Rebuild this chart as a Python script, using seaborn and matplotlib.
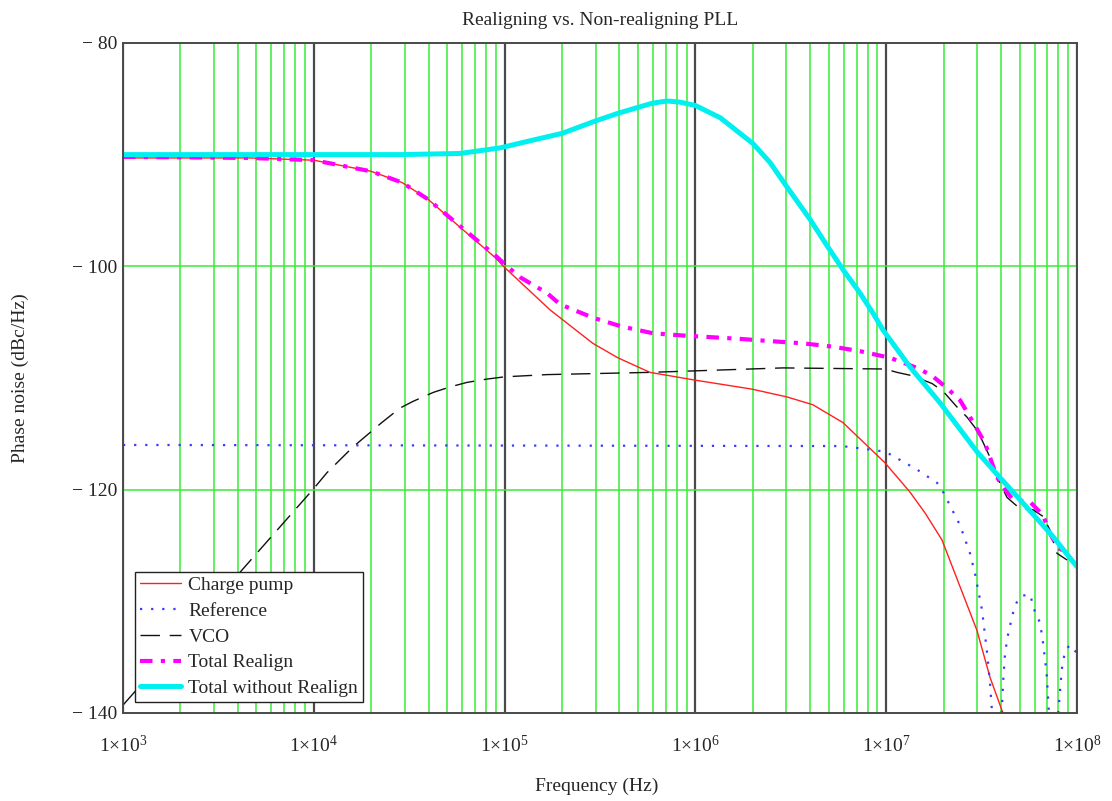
import pandas as pd
import seaborn as sns
import matplotlib.pyplot as plt
from matplotlib.ticker import FixedLocator, LogLocator, NullFormatter

# phase noise contributions (Hz, dBc/Hz)
cp_freq = [1e3, 4.6e3, 1e4, 2.0e4, 2.9e4, 3.97e4, 5.84e4, 8.9e4, 1.0e5, 1.73e5, 2.9e5, 3.93e5,
           5.78e5, 1.0e6, 1.98e6, 3.02e6, 4.13e6, 5.94e6, 9.86e6, 1.33e7, 1.6e7, 1.96e7, 2.44e7,
           2.99e7, 3.5e7, 4.09e7, 4.4e7]
cp_db = [-90.3, -90.3, -90.5, -91.5, -92.5, -94.0, -96.5, -99.2, -100.1, -103.9, -106.9, -108.2,
         -109.5, -110.2, -111.0, -111.7, -112.4, -114.0, -117.6, -120.2, -122.1, -124.5, -128.7,
         -132.6, -136.8, -140.0, -143.0]

ref_freq = [1e3, 5.9e6, 9.9e6, 1.45e7, 1.85e7, 1.96e7, 2.44e7, 2.75e7, 2.92e7, 3.18e7, 3.37e7,
            3.5e7, 3.58e7, 3.81e7, 4.03e7, 4.11e7, 4.2e7, 4.37e7, 4.63e7, 4.83e7, 5.13e7, 5.68e7,
            6.03e7, 6.4e7, 6.64e7, 6.93e7, 7.13e7, 7.55e7, 7.98e7, 8.32e7, 8.65e7, 9.18e7, 9.95e7]
ref_db = [-116.0, -116.1, -116.6, -118.2, -119.4, -120.0, -123.2, -125.7, -127.5, -130.8, -134.4,
          -137.3, -139.7, -150.0, -140.0, -137.0, -134.6, -132.8, -131.0, -130.1, -129.5, -129.4,
          -131.0, -131.9, -133.7, -136.4, -140.0, -150.0, -140.0, -136.1, -134.5, -133.9, -134.6]

vco_freq = [1e3, 1e4, 1.17e4, 1.6e4, 2.0e4, 2.27e4, 2.83e4, 3.31e4, 4.22e4, 5.18e4, 6.35e4,
            8.09e4, 1.0e5, 1.67e5, 5.78e5, 2.88e6, 9.86e6, 1.14e7, 1.37e7, 1.74e7, 1.99e7, 2.35e7,
            2.65e7, 3.03e7, 3.5e7, 3.81e7, 4.3e7, 5.02e7, 5.88e7, 6.64e7, 7.21e7, 7.85e7, 8.87e7]
vco_db = [-139.3, -119.9, -118.5, -116.2, -114.8, -114.0, -112.7, -112.1, -111.3, -110.8, -110.4,
          -110.1, -109.9, -109.7, -109.5, -109.1, -109.2, -109.5, -109.8, -110.5, -111.2, -112.6,
          -113.5, -114.8, -117.1, -118.9, -120.7, -121.7, -121.8, -122.4, -123.6, -125.7, -126.3]

realign_freq = [1e3, 4.6e3, 1e4, 2.0e4, 2.9e4, 3.97e4, 5.84e4, 8.9e4, 1.0e5, 1.21e5, 1.67e5,
                1.95e5, 2.9e5, 4.12e5, 6.0e5, 8.61e5, 1.71e6, 2.46e6, 3.66e6, 5.26e6, 7.29e6,
                1.05e7, 1.45e7, 1.74e7, 2.08e7, 2.44e7, 2.75e7, 3.29e7, 3.81e7, 4.2e7, 4.62e7,
                5.68e7, 6.64e7, 7.21e7, 7.94e7, 8.97e7]
realign_db = [-90.2, -90.3, -90.5, -91.5, -92.5, -94.0, -96.4, -99.0, -99.8, -101.0, -102.4,
              -103.4, -104.6, -105.4, -106.0, -106.2, -106.5, -106.7, -106.9, -107.2, -107.6,
              -108.2, -109.1, -109.8, -110.9, -112.0, -113.5, -115.8, -118.9, -120.0, -120.9,
              -121.1, -122.3, -123.9, -125.2, -125.7]

total_freq = [1e3, 1e4, 2.83e4, 5.84e4, 9.47e4, 1.41e5, 2.0e5, 2.98e5, 3.93e5, 5.93e5, 7.1e5,
              8.3e5, 1.0e6, 1.35e6, 2.0e6, 2.46e6, 3.02e6, 3.99e6, 4.96e6, 5.94e6, 7.29e6,
              8.53e6, 9.62e6, 1.33e7, 1.91e7, 2.99e7, 3.94e7, 5.47e7, 7.48e7, 1e8]
total_db = [-90.0, -90.0, -90.0, -89.9, -89.4, -88.7, -88.1, -87.0, -86.3, -85.4, -85.2,
            -85.3, -85.6, -86.7, -89.0, -90.7, -92.9, -95.8, -98.3, -100.3, -102.4,
            -104.2, -105.7, -109.0, -112.2, -116.6, -118.9, -121.6, -124.2, -126.9]

series_names = ["Charge pump", "Reference", "VCO", "Total Realign", "Total without Realign"]

GRID_GREEN = "#38ec38"
DECADE_GREY = "#4a4a4a"

sns.set_style("white")
plt.rcParams["font.family"] = ["Liberation Serif", "DejaVu Serif"]
plt.rcParams["mathtext.fontset"] = "custom"
plt.rcParams["mathtext.rm"] = "Liberation Serif"
plt.rcParams["mathtext.it"] = "Liberation Serif:italic"
plt.rcParams["font.size"] = 14

fig = plt.figure(figsize=(11.12, 8.01), dpi=100)
ax = fig.add_axes([0.1106, 0.1099, 0.8579, 0.8365])

styles = [
    (cp_freq, cp_db, dict(color="#ff2020", lw=1.0, linestyle="-")),
    (ref_freq, ref_db, dict(color="#3a3aff", lw=1.6, linestyle=(0, (1, 4)))),
    (vco_freq, vco_db, dict(color="#111111", lw=1.0, linestyle=(0, (14, 7)))),
    (realign_freq, realign_db, dict(color="#ff00ff", lw=3.0, linestyle=(0, (3, 2, 1, 2)))),
    (total_freq, total_db, dict(color="#00f0f0", lw=3.6, linestyle="-")),
]
for name, (fx, fy, kw) in zip(series_names, styles):
    df = pd.DataFrame({"freq": fx, "noise": fy})
    sns.lineplot(data=df, x="freq", y="noise", ax=ax, label=name, sort=False,
                 estimator=None, **kw)

ax.set_xscale("log")
ax.set_xlim(1e3, 1e8)
ax.set_ylim(-140, -80)

# grid: black decades, green minor, green horizontal
ax.xaxis.set_minor_locator(LogLocator(base=10, subs=range(2, 10), numticks=50))
ax.xaxis.set_minor_formatter(NullFormatter())
ax.set_xticks([1e3, 1e4, 1e5, 1e6, 1e7, 1e8])
ax.set_xticklabels([r"$\mathregular{1{\times}10^{%d}}$" % e for e in range(3, 9)])
ax.yaxis.set_major_locator(FixedLocator([-140, -120, -100, -80]))
ax.set_yticklabels(["\u2212 140", "\u2212 120", "\u2212 100", "\u2212 80"])

ax.grid(False)
ax.xaxis.grid(True, which="minor", color=GRID_GREEN, lw=1.1)
ax.xaxis.grid(True, which="major", color=DECADE_GREY, lw=1.6)
ax.yaxis.grid(True, which="major", color=GRID_GREEN, lw=1.1)
ax.set_axisbelow(True)

ax.tick_params(axis="both", which="both", length=0)
ax.tick_params(axis="x", pad=16, labelsize=14)
ax.tick_params(axis="y", pad=4, labelsize=14)
for sp in ax.spines.values():
    sp.set_color(DECADE_GREY)
    sp.set_linewidth(1.4)

ax.set_title("Realigning vs. Non-realigning PLL", fontsize=14, pad=13)
ax.set_xlabel("Frequency (Hz)", fontsize=14)
ax.set_ylabel("Phase noise (dBc/Hz)", fontsize=14)
ax.xaxis.set_label_coords(0.497, -0.097)
ax.yaxis.set_label_coords(-0.0985, 0.5)

leg = ax.legend(loc="lower left", bbox_to_anchor=(0.0126, 0.0164), borderaxespad=0,
                fontsize=14, frameon=True, fancybox=False, framealpha=1,
                borderpad=0.25, handlelength=2.1, handletextpad=0.4, labelspacing=0.42)
leg.get_frame().set_edgecolor("#222222")
leg.get_frame().set_linewidth(1.0)

fig.savefig("out.png", dpi=100)
